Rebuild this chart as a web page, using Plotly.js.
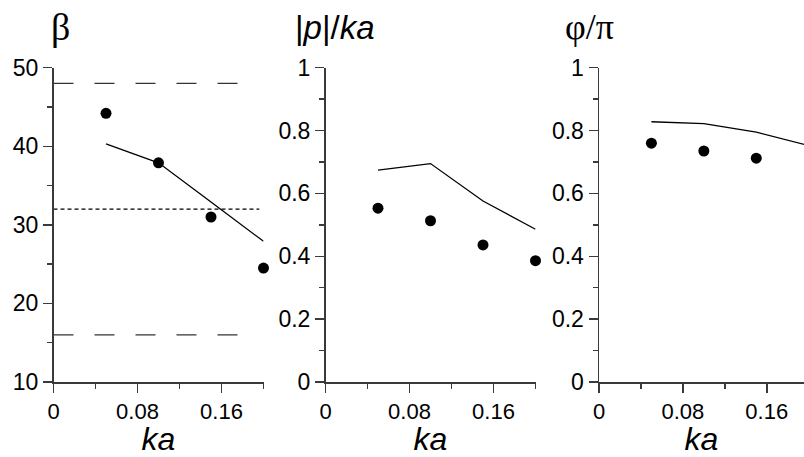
<!DOCTYPE html>
<html>
<head>
<meta charset="utf-8">
<script src="https://cdn.plot.ly/plotly-3.0.1.min.js"></script>
<style>html,body{margin:0;padding:0;background:#fff;}#chart{width:804px;height:457px;}</style>
</head>
<body>
<div id="chart"></div>
<script>
// ---- data ----
const ka = [0.05, 0.10, 0.15, 0.20];

const betaMeasured = [44.2, 37.9, 31.0, 24.5];
const betaModel = [40.3, 37.9, 32.9, 27.9];
const betaUpperX = [0, 0.18], betaUpperY = [48, 48];
const betaLowerX = [0, 0.18], betaLowerY = [16, 16];
const betaMidX = [0, 0.196], betaMidY = [32, 32];

const pMeasured = [0.553, 0.513, 0.436, 0.386];
const pModel = [0.674, 0.695, 0.576, 0.486];

const phiMeasured = [0.760, 0.735, 0.712, 0.696];
const phiModel = [0.828, 0.822, 0.795, 0.752];

const panelTitles = ['β', '|<i>p</i>|/<i>ka</i>', 'φ/π'];
const xTitle = '<i>ka</i>';

// ---- layout helpers ----
const W = 804, H = 457;
const yDom = [1 - 382 / H, 1 - 67.7 / H];
const sans = 'Liberation Sans, Arial, sans-serif';
const serif = 'Liberation Serif, Times New Roman, serif';
const axCol = '#3a3a3a';

function xAxis(dom, range, anchor) {
  return {
    domain: dom, range: range, anchor: anchor,
    showline: true, linecolor: axCol, linewidth: 1.5,
    ticks: 'outside', ticklen: 9, tickwidth: 1.5, tickcolor: axCol,
    tick0: 0, dtick: 0.08,
    minor: {dtick: 0.04, ticks: 'outside', ticklen: 5, tickwidth: 1.5, tickcolor: axCol, showgrid: false},
    showgrid: false, zeroline: false,
    tickfont: {family: sans, size: 22, color: '#000'},
    title: {text: xTitle, font: {family: sans, size: 32, color: '#000'}, standoff: 3},
    fixedrange: true
  };
}
function yAxis(range, dtick, anchor) {
  return {
    domain: yDom, range: range, anchor: anchor,
    showline: true, linecolor: axCol, linewidth: 1.5,
    ticks: 'outside', ticklen: 9, tickwidth: 1.5, tickcolor: axCol,
    tick0: 0, dtick: dtick,
    minor: {dtick: dtick / 2, ticks: 'outside', ticklen: 5, tickwidth: 1.5, tickcolor: axCol, showgrid: false},
    showgrid: false, zeroline: false,
    tickfont: {family: sans, size: 23, color: '#000'},
    fixedrange: true
  };
}

const dot = {color: '#000', size: 11};
const line = {color: '#000', width: 1.3};

const traces = [
  {x: betaUpperX, y: betaUpperY, mode: 'lines', line: {color: '#333', width: 1.3, dash: '20px,21px'}, xaxis: 'x', yaxis: 'y'},
  {x: betaLowerX, y: betaLowerY, mode: 'lines', line: {color: '#333', width: 1.3, dash: '20px,21px'}, xaxis: 'x', yaxis: 'y'},
  {x: betaMidX, y: betaMidY, mode: 'lines', line: {color: '#000', width: 1.2, dash: '4px,3px'}, xaxis: 'x', yaxis: 'y'},
  {x: ka, y: betaModel, mode: 'lines', line: line, xaxis: 'x', yaxis: 'y'},
  {x: ka, y: betaMeasured, mode: 'markers', marker: dot, cliponaxis: false, xaxis: 'x', yaxis: 'y'},

  {x: ka, y: pModel, mode: 'lines', line: line, xaxis: 'x2', yaxis: 'y2'},
  {x: ka, y: pMeasured, mode: 'markers', marker: dot, cliponaxis: false, xaxis: 'x2', yaxis: 'y2'},

  {x: ka, y: phiModel, mode: 'lines', line: line, xaxis: 'x3', yaxis: 'y3'},
  {x: ka, y: phiMeasured, mode: 'markers', marker: dot, cliponaxis: false, xaxis: 'x3', yaxis: 'y3'}
];

const titleY = 1 - 27 / H;
const layout = {
  width: W, height: H,
  margin: {l: 0, r: 0, t: 0, b: 0},
  paper_bgcolor: '#fff', plot_bgcolor: '#fff',
  showlegend: false,
  xaxis: xAxis([53.5 / W, 263.5 / W], [0, 0.2], 'y'),
  yaxis: yAxis([10, 50], 10, 'x'),
  xaxis2: xAxis([325.5 / W, 535.5 / W], [0, 0.2], 'y2'),
  yaxis2: yAxis([0, 1], 0.2, 'x2'),
  xaxis3: xAxis([599 / W, 1], [0, 0.2 * (W - 599) / 209.7], 'y3'),
  yaxis3: yAxis([0, 1], 0.2, 'x3'),
  annotations: [
    {text: panelTitles[0], xref: 'paper', yref: 'paper', x: 49 / W, y: titleY, xanchor: 'left', yanchor: 'middle', showarrow: false, font: {family: serif, size: 38, color: '#000'}},
    {text: panelTitles[1], xref: 'paper', yref: 'paper', x: 293 / W, y: titleY, xanchor: 'left', yanchor: 'middle', showarrow: false, font: {family: sans, size: 33, color: '#000'}},
    {text: panelTitles[2], xref: 'paper', yref: 'paper', x: 563 / W, y: titleY, xanchor: 'left', yanchor: 'middle', showarrow: false, font: {family: serif, size: 36, color: '#000'}}
  ]
};

Plotly.newPlot('chart', traces, layout, {staticPlot: true, displayModeBar: false});
</script>
</body>
</html>
